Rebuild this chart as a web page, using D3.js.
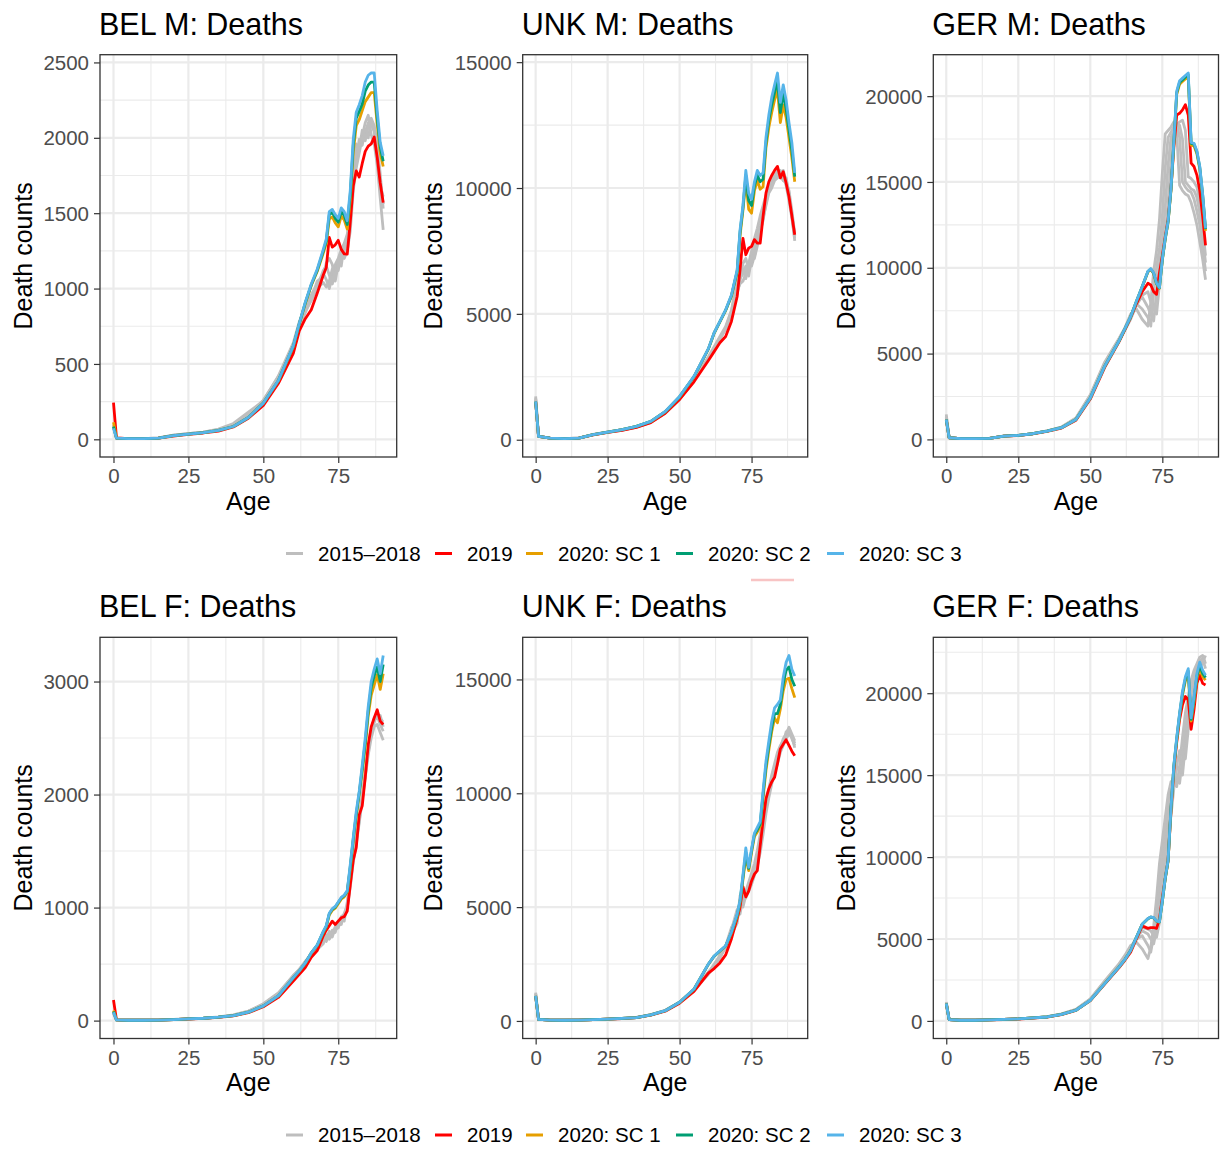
<!DOCTYPE html>
<html>
<head>
<meta charset="utf-8">
<script src="https://cdn.jsdelivr.net/npm/d3@7"></script>
<style>
  body { margin: 0; background: #fff; }
  svg text { font-family: "Liberation Sans", Arial, Helvetica, sans-serif; }
</style>
</head>
<body>
<svg id="chart" width="1221" height="1151"></svg>
<script>

/////////////////////////////////
// DATA
//////////////////////////////////

var ages = [0,1,5,10,15,20,25,30,35,40,45,50,55,60,62,64,66,68,70,71,72,73,74,75,76,77,78,79,80,81,82,83,84,85,86,87,88,89,90];

// BEL M
var belM_2015 = [95,9,4,4,9,28,38,48,65,100,165,250,410, 630,760,860,940,1000, 1040,1010,1050,1130,1160,1200,1260,1300,1360,1500,1780,1900,1960,2010,2100,2150,2020,1960,1820,1600,1390];
var belM_2016 = [88,8,4,4,9,27,37,47,68,105,180,255,420, 640,780,880,960,1030, 1100,1060,1000,1080,1150,1120,1220,1250,1300,1560,1860,1960,1920,2050,2030,2100,2090,2040,1900,1720,1560];
var belM_2017 = [82,8,4,4,8,26,36,46,62,95,160,260,415, 610,750,850,920,1010, 1120,1150,1090,1030,1100,1190,1150,1290,1340,1420,1720,1850,1990,1950,2060,2000,2110,2060,1860,1680,1610];
var belM_2018 = [90,8,4,4,8,26,37,47,63,98,170,250,400, 600,740,840,930,1050, 1080,1170,1200,1160,1050,1160,1230,1200,1250,1380,1650,1800,1900,2000,1980,2080,2130,2080,1960,1760,1530];
var belM_2019 = [244,10,4,4,8,22,33,42,55,82,140,225,370, 570,720,800,860,970, 1090,1140,1340,1275,1290,1320,1260,1230,1228,1440,1680,1780,1740,1830,1910,1945,1960,2005,1870,1700,1570];
var belM_sc1 = [113,8,4,4,8,25,35,45,60,85,145,240,388, 615,765,900,1020,1115, 1235,1300,1460,1475,1435,1410,1480,1455,1395,1590,1905,2080,2120,2180,2240,2270,2300,2300,2090,1900,1810];
var belM_sc2 = [84,8,4,4,8,25,35,45,60,85,145,240,389, 618,768,905,1025,1122, 1248,1315,1490,1505,1465,1440,1510,1485,1425,1620,1950,2130,2175,2225,2310,2350,2370,2370,2130,1940,1845];
var belM_sc3 = [73,8,4,4,8,25,35,45,60,85,145,240,390, 620,770,910,1030,1130, 1260,1330,1510,1525,1490,1465,1535,1510,1450,1650,1990,2170,2220,2280,2370,2415,2430,2430,2180,1970,1880];

// UNK M
var unkM_2015 = [1720,140,62,42,70,210,310,400,520,700,1080,1620,2350, 3200,3600,4000,4400,5000, 5900,6200,6300,6600,7000,7500,8000,8400,8900,9300,9700,10000,10300,10500,10600,10700,10500,10100,9500,8800,8000];
var unkM_2016 = [1650,135,60,40,68,205,300,390,510,690,1060,1600,2330, 3250,3650,4050,4450,5100, 6500,6400,6600,6900,6500,7200,7600,8100,8500,9000,9500,9900,10200,10400,10500,10400,10700,10300,9700,9000,8100];
var unkM_2017 = [1600,135,60,40,66,200,295,385,505,700,1090,1650,2380, 3300,3700,4100,4500,5150, 6000,6700,6800,6400,6900,6900,7300,7800,8200,8800,9300,9800,10000,10300,10400,10500,10300,10400,9800,8900,7900];
var unkM_2018 = [1580,130,60,40,66,195,290,380,500,690,1070,1630,2360, 3250,3620,4000,4400,5000, 5800,6300,7000,7200,6800,7300,7200,7700,8300,8700,9400,9900,10400,10500,10700,10600,10300,10200,9900,9100,8200];
var unkM_2019 = [1500,130,60,40,65,190,290,370,490,680,1050,1600,2300, 3150,3500,3850,4100,4700, 5690,6750,8000,7350,7610,7680,7950,7810,7810,8870,9800,10250,10500,10700,10860,10400,10650,10200,9650,8900,8140];
var unkM_sc1 = [1510,130,60,40,65,200,300,400,528,725,1110,1700,2500, 3600,4230,4680,5130,5700, 6650,8100,9100,10300,9150,9000,9900,10300,9950,10050,11600,12400,13000,13500,13900,12600,13300,12800,12000,11200,10250];
var unkM_sc2 = [1515,130,60,40,65,200,300,400,529,728,1115,1710,2510, 3610,4240,4690,5145,5720, 6700,8250,9200,10500,9500,9300,10100,10500,10250,10350,11800,12700,13300,13800,14250,13000,13750,13150,12300,11500,10450];
var unkM_sc3 = [1520,130,60,40,65,200,300,400,530,730,1120,1720,2520, 3620,4250,4700,5160,5750, 6750,8340,9300,10700,9800,9550,10250,10700,10500,10600,12000,12900,13600,14100,14570,13400,14100,13500,12600,11800,10600];

// GER M
var gerM_2015 = [1455,100,42,40,58,200,240,340,500,720,1250,2600,4500, 5900,6500,7300,7600,7000, 6600,8000,9800,11000,12800,15500,17800,18000,18200,18500,17800,14800,14500,14300,14200,13800,13200,12500,11500,10500,9300];
var gerM_2016 = [1350,98,42,40,56,195,235,335,495,710,1220,2550,4450, 5850,6450,7200,7900,7600, 7100,6600,8600,10000,11200,13000,15800,17600,17900,18200,18400,17600,15000,14700,14500,14400,14000,13300,12500,11200,9800];
var gerM_2017 = [1300,97,41,40,56,195,235,335,490,700,1200,2500,4400, 5800,6400,7100,7900,8300, 7700,7300,6900,8600,10200,11500,13500,16000,17600,17900,18100,18300,17500,15000,14800,14600,14500,14100,13200,11800,10300];
var gerM_2018 = [1250,96,41,40,55,190,232,330,485,690,1180,2470,4350, 5750,6350,7000,7800,8400, 8600,8000,7600,7300,9000,10400,11800,13800,16300,18000,18300,18500,18600,18000,15300,15200,15000,14700,13800,12300,10700];
var gerM_2019 = [1150,95,40,40,55,185,225,320,470,660,1120,2350,4200, 5700,6400,7100,7900,8600, 9100,9000,8600,8450,9700,10700,11800,12800,14600,17000,18900,19000,19200,19500,18900,16100,15900,15400,14500,13000,11300];
var gerM_sc1 = [1160,95,40,40,55,190,230,330,480,680,1155,2410,4260, 5740,6440,7140,8030,8880, 9750,9900,9650,9050,8800,10450,11650,12650,14500,17250,20100,20700,20850,21000,21100,17150,17100,16650,15750,14150,12150];
var gerM_sc2 = [1160,95,40,40,55,190,230,330,480,680,1158,2415,4265, 5745,6445,7145,8040,8890, 9780,9930,9680,9080,8830,10480,11680,12680,14550,17330,20200,20800,20950,21100,21250,17250,17200,16750,15850,14250,12250];
var gerM_sc3 = [1160,95,40,40,55,190,230,330,480,680,1160,2420,4270, 5750,6450,7150,8050,8900, 9800,9950,9700,9100,8850,10500,11700,12700,14600,17400,20300,20900,21050,21200,21350,17300,17250,16800,15900,14300,12300];

// BEL F
var belF_2015 = [65,6,3,3,5,10,16,22,32,50,85,145,240, 400,450,520,580,640, 700,740,720,760,800,830,870,920,1000,1180,1400,1560,1750,1950,2150,2350,2500,2600,2620,2550,2480];
var belF_2016 = [70,6,3,3,5,10,16,22,31,48,82,140,235, 390,445,515,590,650, 740,700,760,740,820,860,900,880,1050,1250,1450,1600,1780,1980,2200,2400,2550,2650,2700,2620,2560];
var belF_2017 = [62,6,3,3,5,9,15,21,30,46,80,150,245, 395,455,525,585,630, 680,760,730,800,780,880,850,950,1020,1220,1420,1580,1800,1960,2180,2380,2560,2680,2680,2700,2600];
var belF_2018 = [68,6,3,3,5,9,15,21,30,45,78,138,230, 385,440,510,575,645, 720,720,790,770,830,820,920,940,990,1230,1460,1620,1760,2000,2160,2420,2580,2640,2740,2640,2660];
var belF_2019 = [183,7,3,3,5,9,14,20,28,42,70,122,205, 350,410,470,560,620, 750,800,840,880,850,880,910,920,970,1200,1420,1530,1820,1900,2150,2440,2600,2680,2750,2650,2620];
var belF_sc1 = [89,6,3,3,5,9,15,21,30,44,74,130,219, 378,438,508,598,665, 780,830,935,975,995,1035,1075,1095,1135,1340,1590,1800,2000,2200,2420,2700,2880,2970,3060,2930,3070];
var belF_sc2 = [80,6,3,3,5,9,15,21,30,44,74,130,219, 379,439,509,599,668, 785,835,945,985,1005,1045,1085,1105,1145,1360,1605,1825,2015,2230,2460,2740,2950,3050,3130,3000,3150];
var belF_sc3 = [74,6,3,3,5,9,15,21,30,44,74,130,220, 380,440,510,600,670, 790,840,950,990,1010,1050,1090,1110,1150,1380,1620,1850,2030,2260,2500,2780,3000,3110,3200,3070,3230];

// UNK F
var unkF_2015 = [1246,75,36,30,42,62,82,112,155,280,470,830,1380, 2100,2400,2750,3300,4100, 4500,4900,5300,5700,6100,6500,6900,7500,8200,8900,9700,10200,10800,11300,11800,12100,12300,12500,12700,12400,12100];
var unkF_2016 = [1200,74,35,30,41,61,81,110,152,275,460,820,1370, 2150,2450,2800,3250,4000, 4900,4700,5400,5600,5900,6300,6700,7200,7900,8700,9500,10100,10700,11100,11600,12000,12400,12600,12900,12600,12300];
var unkF_2017 = [1180,73,35,30,41,60,80,108,150,270,455,810,1350, 2100,2500,2850,3200,3900, 4400,5200,5000,5500,5800,6200,6600,7100,7600,8500,9300,10000,10600,11000,11500,11900,12200,12700,12800,12500,12000];
var unkF_2018 = [1150,72,35,30,40,60,80,108,148,265,450,800,1340, 2050,2400,2900,3300,3800, 4300,5500,5300,5400,5700,6000,6400,6800,7400,8200,9100,9800,10400,10900,11300,11800,12100,12400,12600,12500,12200];
var unkF_2019 = [1080,70,35,30,40,58,78,105,145,255,430,780,1300, 2100,2300,2550,2900,3600, 4500,5000,5900,5450,5700,6150,6450,6600,7700,8800,9750,10200,10500,10700,11300,11950,12150,12350,12100,11850,11650];
var unkF_sc1 = [1100,73,35,30,40,60,80,110,150,268,448,815,1390, 2490,2840,3060,3280,3870, 4600,5200,6200,7200,6600,7400,8100,8300,8550,9800,11000,11900,12700,13300,13100,13700,14500,15000,15050,14600,14200];
var unkF_sc2 = [1100,73,35,30,40,60,80,110,150,269,449,818,1395, 2495,2845,3070,3290,3885, 4650,5250,6300,7400,6700,7500,8200,8400,8650,9950,11200,12100,12900,13500,13500,13900,14800,15400,15550,15000,14700];
var unkF_sc3 = [1100,73,35,30,40,60,80,110,150,270,450,820,1400, 2500,2850,3080,3300,3900, 4700,5300,6400,7600,6750,7550,8250,8500,8750,10100,11400,12300,13150,13750,13900,14100,15100,15750,16050,15450,15150];

// GER F
var gerF_2015 = [1150,82,41,40,62,95,125,190,260,430,700,1350,2450, 3500,4000,4600,4800,4400, 3800,4500,5800,7500,9600,11000,12400,13800,14600,14500,14300,15600,17300,18800,19800,20800,21400,21800,22200,22300,21800];
var gerF_2016 = [1120,81,41,40,61,93,123,185,255,420,690,1330,2400, 3450,3950,4500,5000,5200, 4600,4200,5200,6500,8300,10200,11500,12800,14200,15000,14800,14500,16000,17800,19000,20200,21000,21600,22000,22100,21500];
var gerF_2017 = [1100,80,40,40,61,92,122,183,250,415,680,1310,2380, 3400,3900,4450,5100,5500, 5300,5000,4700,5600,7000,9000,10800,12000,13500,14600,15500,15300,15000,16800,18200,19600,20600,21200,21700,22000,21900];
var gerF_2018 = [1080,80,40,40,60,91,121,182,245,410,670,1290,2350, 3350,3800,4350,5100,5700, 5600,5500,5200,5100,6000,7600,9500,11200,12500,14200,15600,16500,16300,16000,17800,19000,20300,21000,21500,21900,22300];
var gerF_2019 = [1050,80,40,40,60,88,118,175,235,390,640,1240,2250, 3250,3700,4200,5000,5800, 5650,5700,5700,5650,6200,7500,8700,9800,12800,15300,17000,18400,19300,19800,19600,17800,19000,20600,21100,20600,20500];
var gerF_sc1 = [1060,80,40,40,60,90,120,180,240,400,650,1258,2275, 3295,3745,4295,5090,5890, 6230,6330,6280,6080,6030,7270,8650,9750,12900,15500,17150,18650,19900,20750,21200,18300,19500,20900,21500,21000,20800];
var gerF_sc2 = [1060,80,40,40,60,90,120,180,240,400,650,1259,2278, 3298,3748,4298,5095,5895, 6240,6340,6290,6090,6040,7285,8680,9780,12950,15550,17220,18720,20000,20880,21350,18400,19650,21050,21700,21200,20950];
var gerF_sc3 = [1060,80,40,40,60,90,120,180,240,400,650,1260,2280, 3300,3750,4300,5100,5900, 6250,6350,6300,6100,6050,7300,8700,9800,13000,15600,17300,18800,20100,21000,21500,18500,19800,21200,21900,21400,21100];

var panelTitles = ["BEL M: Deaths", "UNK M: Deaths", "GER M: Deaths", "BEL F: Deaths", "UNK F: Deaths", "GER F: Deaths"];
var yTickValues = [
    [0, 500, 1000, 1500, 2000, 2500],
    [0, 5000, 10000, 15000],
    [0, 5000, 10000, 15000, 20000],
    [0, 1000, 2000, 3000],
    [0, 5000, 10000, 15000],
    [0, 5000, 10000, 15000, 20000]
];
var xTickValues = [0, 25, 50, 75];

var seriesNames = ["2015\u20132018", "2019", "2020: SC 1", "2020: SC 2", "2020: SC 3"];
var seriesColors = ["#BEBEBE", "#FF0000", "#E69F00", "#009E73", "#56B4E9"];

// series index: 0 = gray (past years), 1 = 2019, 2..4 = scenarios
var panelSeries = [
    [[belM_2015, belM_2016, belM_2017, belM_2018], [belM_2019], [belM_sc1], [belM_sc2], [belM_sc3]],
    [[unkM_2015, unkM_2016, unkM_2017, unkM_2018], [unkM_2019], [unkM_sc1], [unkM_sc2], [unkM_sc3]],
    [[gerM_2015, gerM_2016, gerM_2017, gerM_2018], [gerM_2019], [gerM_sc1], [gerM_sc2], [gerM_sc3]],
    [[belF_2015, belF_2016, belF_2017, belF_2018], [belF_2019], [belF_sc1], [belF_sc2], [belF_sc3]],
    [[unkF_2015, unkF_2016, unkF_2017, unkF_2018], [unkF_2019], [unkF_sc1], [unkF_sc2], [unkF_sc3]],
    [[gerF_2015, gerF_2016, gerF_2017, gerF_2018], [gerF_2019], [gerF_sc1], [gerF_sc2], [gerF_sc3]]
];


/////////////////////////////////
// LAYOUT
//////////////////////////////////

var svg = d3.select("#chart");

svg.append("rect").attr("width", 1221).attr("height", 1151).attr("fill", "#fff");

var cols = [
    {left: 100, right: 396.7, yTitle: 32},
    {left: 522.7, right: 807.7, yTitle: 442},
    {left: 933.3, right: 1218.5, yTitle: 855}
];
var rows = [
    {top: 54.7, bottom: 457},
    {top: 637.3, bottom: 1038.5}
];
var legendKeyX = [286, 435, 526, 676, 827];

var tickFont = 20.5;
var axisTitleFont = 25;
var titleFont = 30.5;


/////////////////////////////////
// DRAW PANELS
//////////////////////////////////

panelSeries.forEach(function(series, k) {
    var c = cols[k % 3];
    var r = rows[Math.floor(k / 3)];

    var x = d3.scaleLinear()
        .domain([-4.5, 94.5])
        .range([c.left, c.right]);

    // ggplot-like 5% expansion of the data range
    var allValues = d3.merge(d3.merge(series));
    var ext = d3.extent(allValues);
    var pad = (ext[1] - ext[0]) * 0.05;
    var y = d3.scaleLinear()
        .domain([ext[0] - pad, ext[1] + pad])
        .range([r.bottom, r.top]);

    var g = svg.append("g");

    // minor grid
    var yt = yTickValues[k];
    var yStep = yt[1] - yt[0];
    var yMinor = [yt[0] - yStep / 2].concat(yt.map(function(t) { return t + yStep / 2; }))
        .filter(function(v) { return v > y.domain()[0] && v < y.domain()[1]; });
    var xMinor = [-12.5, 12.5, 37.5, 62.5, 87.5]
        .filter(function(v) { return v > x.domain()[0] && v < x.domain()[1]; });

    g.selectAll(".yminor").data(yMinor).enter().append("line")
        .attr("x1", c.left).attr("x2", c.right)
        .attr("y1", function(d) { return y(d); }).attr("y2", function(d) { return y(d); })
        .attr("stroke", "#EBEBEB").attr("stroke-width", 1.1);
    g.selectAll(".xminor").data(xMinor).enter().append("line")
        .attr("y1", r.top).attr("y2", r.bottom)
        .attr("x1", function(d) { return x(d); }).attr("x2", function(d) { return x(d); })
        .attr("stroke", "#EBEBEB").attr("stroke-width", 1.1);

    // major grid
    g.selectAll(".ymajor").data(yt).enter().append("line")
        .attr("x1", c.left).attr("x2", c.right)
        .attr("y1", function(d) { return y(d); }).attr("y2", function(d) { return y(d); })
        .attr("stroke", "#EBEBEB").attr("stroke-width", 2.2);
    g.selectAll(".xmajor").data(xTickValues).enter().append("line")
        .attr("y1", r.top).attr("y2", r.bottom)
        .attr("x1", function(d) { return x(d); }).attr("x2", function(d) { return x(d); })
        .attr("stroke", "#EBEBEB").attr("stroke-width", 2.2);

    // lines
    var line = d3.line()
        .x(function(d, i) { return x(ages[i]); })
        .y(function(d) { return y(d); });

    series.forEach(function(group, s) {
        group.forEach(function(vals) {
            g.append("path")
                .attr("d", line(vals))
                .attr("fill", "none")
                .attr("stroke", seriesColors[s])
                .attr("stroke-width", 2.8)
                .attr("stroke-linejoin", "round");
        });
    });

    // border
    g.append("rect")
        .attr("x", c.left).attr("y", r.top)
        .attr("width", c.right - c.left).attr("height", r.bottom - r.top)
        .attr("fill", "none").attr("stroke", "#333333").attr("stroke-width", 1.3);

    // y axis
    var yAxis = d3.axisLeft(y).tickValues(yt).tickSize(6).tickPadding(5).tickFormat(d3.format("d"));
    var ya = g.append("g").attr("transform", "translate(" + c.left + ",0)").call(yAxis);
    ya.select(".domain").remove();
    ya.selectAll(".tick line").attr("stroke", "#333333").attr("stroke-width", 1.2);
    ya.selectAll(".tick text").attr("fill", "#4D4D4D").attr("font-size", tickFont)
        .attr("font-family", null).attr("dy", "0.35em");

    // x axis
    var xAxis = d3.axisBottom(x).tickValues(xTickValues).tickSize(6).tickPadding(5);
    var xa = g.append("g").attr("transform", "translate(0," + r.bottom + ")").call(xAxis);
    xa.select(".domain").remove();
    xa.selectAll(".tick line").attr("stroke", "#333333").attr("stroke-width", 1.2);
    xa.selectAll(".tick text").attr("fill", "#4D4D4D").attr("font-size", tickFont)
        .attr("font-family", null).attr("y", 26).attr("dy", null);

    // titles
    g.append("text")
        .attr("x", c.left - 1).attr("y", r.top - 20)
        .attr("font-size", titleFont).attr("fill", "#000")
        .text(panelTitles[k]);

    g.append("text")
        .attr("x", (c.left + c.right) / 2).attr("y", r.bottom + 52.5)
        .attr("text-anchor", "middle")
        .attr("font-size", axisTitleFont).attr("fill", "#000")
        .text("Age");

    g.append("text")
        .attr("transform", "translate(" + c.yTitle + "," + ((r.top + r.bottom) / 2) + ") rotate(-90)")
        .attr("text-anchor", "middle")
        .attr("font-size", axisTitleFont).attr("fill", "#000")
        .text("Death counts");
});


/////////////////////////////////
// LEGENDS
//////////////////////////////////

rows.forEach(function(r) {
    var ly = r.bottom + 96.5;
    var lg = svg.append("g");
    seriesNames.forEach(function(name, i) {
        lg.append("line")
            .attr("x1", legendKeyX[i]).attr("x2", legendKeyX[i] + 17)
            .attr("y1", ly).attr("y2", ly)
            .attr("stroke", seriesColors[i]).attr("stroke-width", 3);
        lg.append("text")
            .attr("x", legendKeyX[i] + 32).attr("y", ly)
            .attr("dy", "0.35em")
            .attr("font-size", tickFont).attr("fill", "#000")
            .text(name);
    });
});

// faint pink stroke under the first legend
svg.append("line")
    .attr("x1", 751).attr("x2", 794).attr("y1", 580).attr("y2", 580)
    .attr("stroke", "#F8C4C4").attr("stroke-width", 2.5);

</script>
</body>
</html>
